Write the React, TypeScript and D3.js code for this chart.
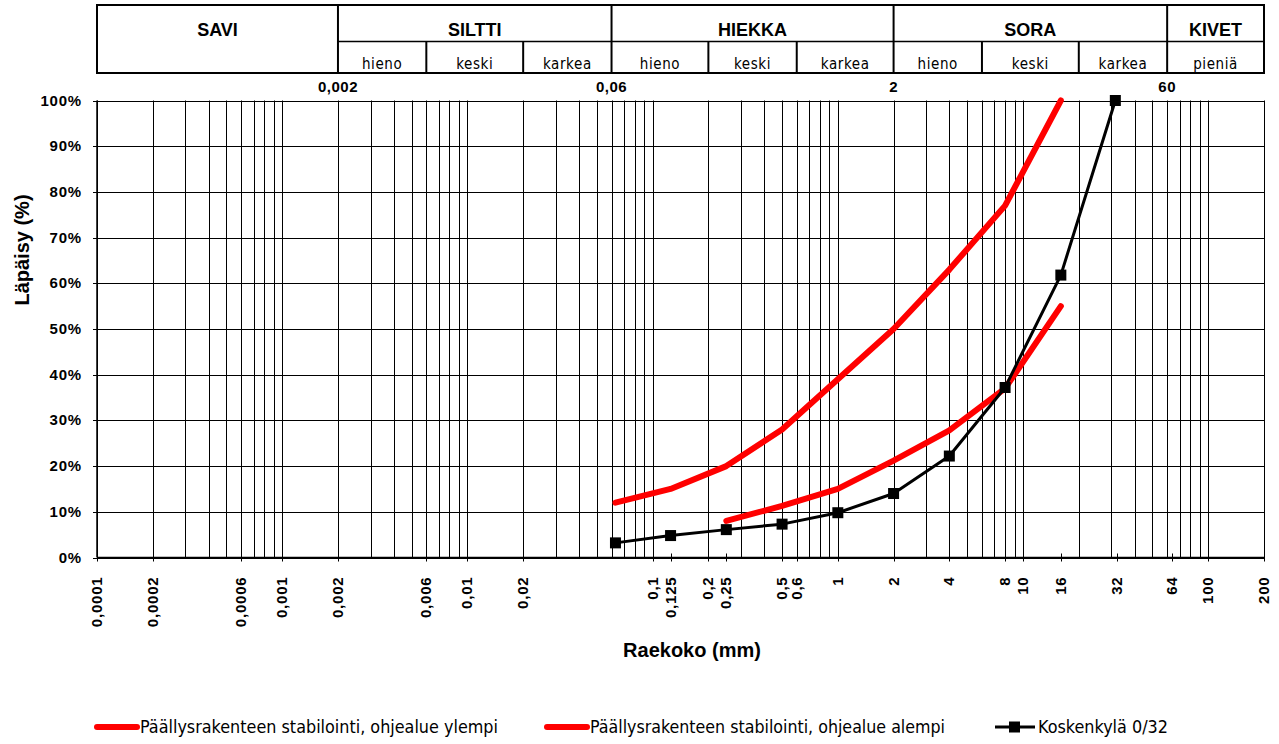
import React from "react";
import * as d3 from "d3";

// Grain-size distribution (rakeisuuskäyrä)
const upperBand: [number, number][] = [
  [0.063, 12], [0.125, 15], [0.25, 20], [0.5, 28], [1, 39], [2, 50], [4, 63], [8, 77], [16, 100],
];
const lowerBand: [number, number][] = [
  [0.25, 8], [0.5, 11.3], [1, 15], [2, 21.2], [4, 27.8], [8, 37], [16, 55],
];
const sample: [number, number][] = [
  [0.063, 3.2], [0.125, 4.8], [0.25, 6.1], [0.5, 7.3], [1, 9.8], [2, 14], [4, 22.2], [8, 37.2], [16, 61.8], [31.5, 100],
];

const xTickValues = [
  0.0001, 0.0002, 0.0006, 0.001, 0.002, 0.006, 0.01, 0.02, 0.1, 0.125, 0.2, 0.25, 0.5, 0.6, 1, 2, 4, 8, 10, 16, 32, 64, 100, 200,
];
const xTickLabels = [
  "0,0001", "0,0002", "0,0006", "0,001", "0,002", "0,006", "0,01", "0,02", "0,1", "0,125", "0,2", "0,25", "0,5", "0,6", "1", "2", "4", "8", "10", "16", "32", "64", "100", "200",
];
const yTickValues = [0, 10, 20, 30, 40, 50, 60, 70, 80, 90, 100];

// Soil-class header: main classes and their subdivisions (bounds in mm)
const mainClasses = [
  { name: "SAVI", from: 0.0001, to: 0.002 },
  { name: "SILTTI", from: 0.002, to: 0.06 },
  { name: "HIEKKA", from: 0.06, to: 2 },
  { name: "SORA", from: 2, to: 60 },
  { name: "KIVET", from: 60, to: 200 },
];
const subClasses = [
  { name: "hieno", from: 0.002, to: 0.006 },
  { name: "keski", from: 0.006, to: 0.02 },
  { name: "karkea", from: 0.02, to: 0.06 },
  { name: "hieno", from: 0.06, to: 0.2 },
  { name: "keski", from: 0.2, to: 0.6 },
  { name: "karkea", from: 0.6, to: 2 },
  { name: "hieno", from: 2, to: 6 },
  { name: "keski", from: 6, to: 20 },
  { name: "karkea", from: 20, to: 60 },
  { name: "pieniä", from: 60, to: 200 },
];
const boundaryLabels = [
  { value: 0.002, label: "0,002" },
  { value: 0.06, label: "0,06" },
  { value: 2, label: "2" },
  { value: 60, label: "60" },
];

const legendItems = [
  { label: "Päällysrakenteen stabilointi, ohjealue ylempi", color: "#ff0000", width: 6, marker: false, textWidth: 358 },
  { label: "Päällysrakenteen stabilointi, ohjealue alempi", color: "#ff0000", width: 6, marker: false, textWidth: 355 },
  { label: "Koskenkylä 0/32", color: "#000000", width: 3, marker: true, textWidth: 130 },
];

const W = 1279;
const H = 744;
const plot = { left: 97, right: 1264, top: 100.5, bottom: 557.5 };
const header = { top: 5, mid: 41.5, bottom: 73 };

const FONT = "'Liberation Sans', Arial, sans-serif";
const NARROW = "'Liberation Sans Narrow', 'DejaVu Sans Condensed', 'Liberation Sans', sans-serif";

export default function App() {
  const x = d3.scaleLog().domain([0.0001, 200]).range([plot.left, plot.right]);
  const y = d3.scaleLinear().domain([0, 100]).range([plot.bottom, plot.top]);

  // log gridlines: 1..9 × 10^k for each decade, plus the right edge
  const grid: number[] = [];
  for (let e = -4; e <= 1; e++) {
    for (let m = 1; m <= 9; m++) grid.push(m * Math.pow(10, e));
  }
  grid.push(100, 200);

  const line = d3
    .line<[number, number]>()
    .x((d) => x(d[0]))
    .y((d) => y(d[1]));

  const legendX = [97, 547, 995];
  const legendY = 727;

  return (
    <svg
      width={W}
      height={H}
      style={{ position: "absolute", left: 0, top: 0, background: "#fff" }}
      fontFamily={FONT}
    >
      {/* header table */}
      <g stroke="#000" fill="none">
        <rect
          x={plot.left}
          y={header.top}
          width={plot.right - plot.left}
          height={header.bottom - header.top}
          strokeWidth={2}
        />
        <line x1={x(0.002)} x2={plot.right} y1={header.mid} y2={header.mid} strokeWidth={1.5} />
        {mainClasses.slice(1).map((c) => (
          <line key={"mc" + c.name} x1={x(c.from)} x2={x(c.from)} y1={header.top} y2={header.bottom} strokeWidth={2} />
        ))}
        {subClasses
          .filter((s) => !boundaryLabels.some((b) => b.value === s.from))
          .map((s, i) => (
            <line key={"sc" + i} x1={x(s.from)} x2={x(s.from)} y1={header.mid} y2={header.bottom} strokeWidth={2} />
          ))}
      </g>
      <g fill="#000">
        {mainClasses.map((c) => (
          <text
            key={"mt" + c.name}
            x={(x(c.from) + x(c.to)) / 2}
            y={36}
            textAnchor="middle"
            fontWeight="bold"
            fontSize={18}
          >
            {c.name}
          </text>
        ))}
        {subClasses.map((s, i) => (
          <text key={"st" + i} x={(x(s.from) + x(s.to)) / 2} y={69} textAnchor="middle" fontSize={15} fontFamily={NARROW} letterSpacing={0.6}>
            {s.name}
          </text>
        ))}
        {boundaryLabels.map((b) => (
          <text key={"bl" + b.label} x={x(b.value)} y={92} textAnchor="middle" fontWeight="bold" fontSize={15} letterSpacing={0.5}>
            {b.label}
          </text>
        ))}
      </g>

      {/* gridlines */}
      <g stroke="#000" strokeWidth={1}>
        {grid.map((g, i) => (
          <line key={"vg" + i} x1={Math.round(x(g)) + 0.5} x2={Math.round(x(g)) + 0.5} y1={plot.top} y2={plot.bottom} />
        ))}
        {yTickValues.map((v) => (
          <line key={"hg" + v} x1={plot.left} x2={plot.right} y1={Math.round(y(v)) + 0.5} y2={Math.round(y(v)) + 0.5} />
        ))}
      </g>

      {/* axes with cross ticks */}
      <g stroke="#000" strokeWidth={1.5}>
        <line x1={plot.left} x2={plot.left} y1={plot.top} y2={plot.bottom} />
        <line x1={plot.left} x2={plot.right} y1={plot.bottom} y2={plot.bottom} />
        {yTickValues.map((v) => (
          <line key={"yt" + v} x1={plot.left - 4} x2={plot.left + 4} y1={Math.round(y(v)) + 0.5} y2={Math.round(y(v)) + 0.5} strokeWidth={1} />
        ))}
        {xTickValues.map((v, i) => (
          <line key={"xt" + i} x1={Math.round(x(v)) + 0.5} x2={Math.round(x(v)) + 0.5} y1={plot.bottom - 4} y2={plot.bottom + 4} strokeWidth={1} />
        ))}
      </g>

      {/* tick labels */}
      <g fill="#000" fontWeight="bold" fontSize={15} letterSpacing={0.8}>
        {yTickValues.map((v) => (
          <text key={"yl" + v} x={82} y={y(v) + 5} textAnchor="end">
            {v + "%"}
          </text>
        ))}
        {xTickValues.map((v, i) => (
          <text
            key={"xl" + i}
            transform={`translate(${x(v) + 5},${plot.bottom + 19}) rotate(-90)`}
            textAnchor="end"
          >
            {xTickLabels[i]}
          </text>
        ))}
      </g>

      {/* axis titles */}
      <text
        transform={`translate(29,250) rotate(-90)`}
        textAnchor="middle"
        fontWeight="bold"
        fontSize={20}
      >
        Läpäisy (%)
      </text>
      <text x={692} y={657} textAnchor="middle" fontWeight="bold" fontSize={20}>
        Raekoko (mm)
      </text>

      {/* series */}
      <path d={line(upperBand) ?? ""} fill="none" stroke="#ff0000" strokeWidth={6} strokeLinecap="round" strokeLinejoin="round" />
      <path d={line(lowerBand) ?? ""} fill="none" stroke="#ff0000" strokeWidth={6} strokeLinecap="round" strokeLinejoin="round" />
      <path d={line(sample) ?? ""} fill="none" stroke="#000" strokeWidth={3} strokeLinejoin="round" />
      {sample.map((d, i) => (
        <rect key={"pt" + i} x={x(d[0]) - 5.5} y={y(d[1]) - 5.5} width={11} height={11} fill="#000" />
      ))}

      {/* legend */}
      {legendItems.map((item, i) => (
        <g key={"lg" + i} transform={`translate(${legendX[i]},${legendY})`}>
          <line x1={0} x2={40} y1={0} y2={0} stroke={item.color} strokeWidth={item.width} strokeLinecap={item.marker ? "butt" : "round"} />
          {item.marker && <rect x={14} y={-5.5} width={11} height={11} fill="#000" />}
          <text x={43} y={6} fontSize={18} fontFamily={NARROW} textLength={item.textWidth} lengthAdjust="spacingAndGlyphs">
            {item.label}
          </text>
        </g>
      ))}
    </svg>
  );
}
